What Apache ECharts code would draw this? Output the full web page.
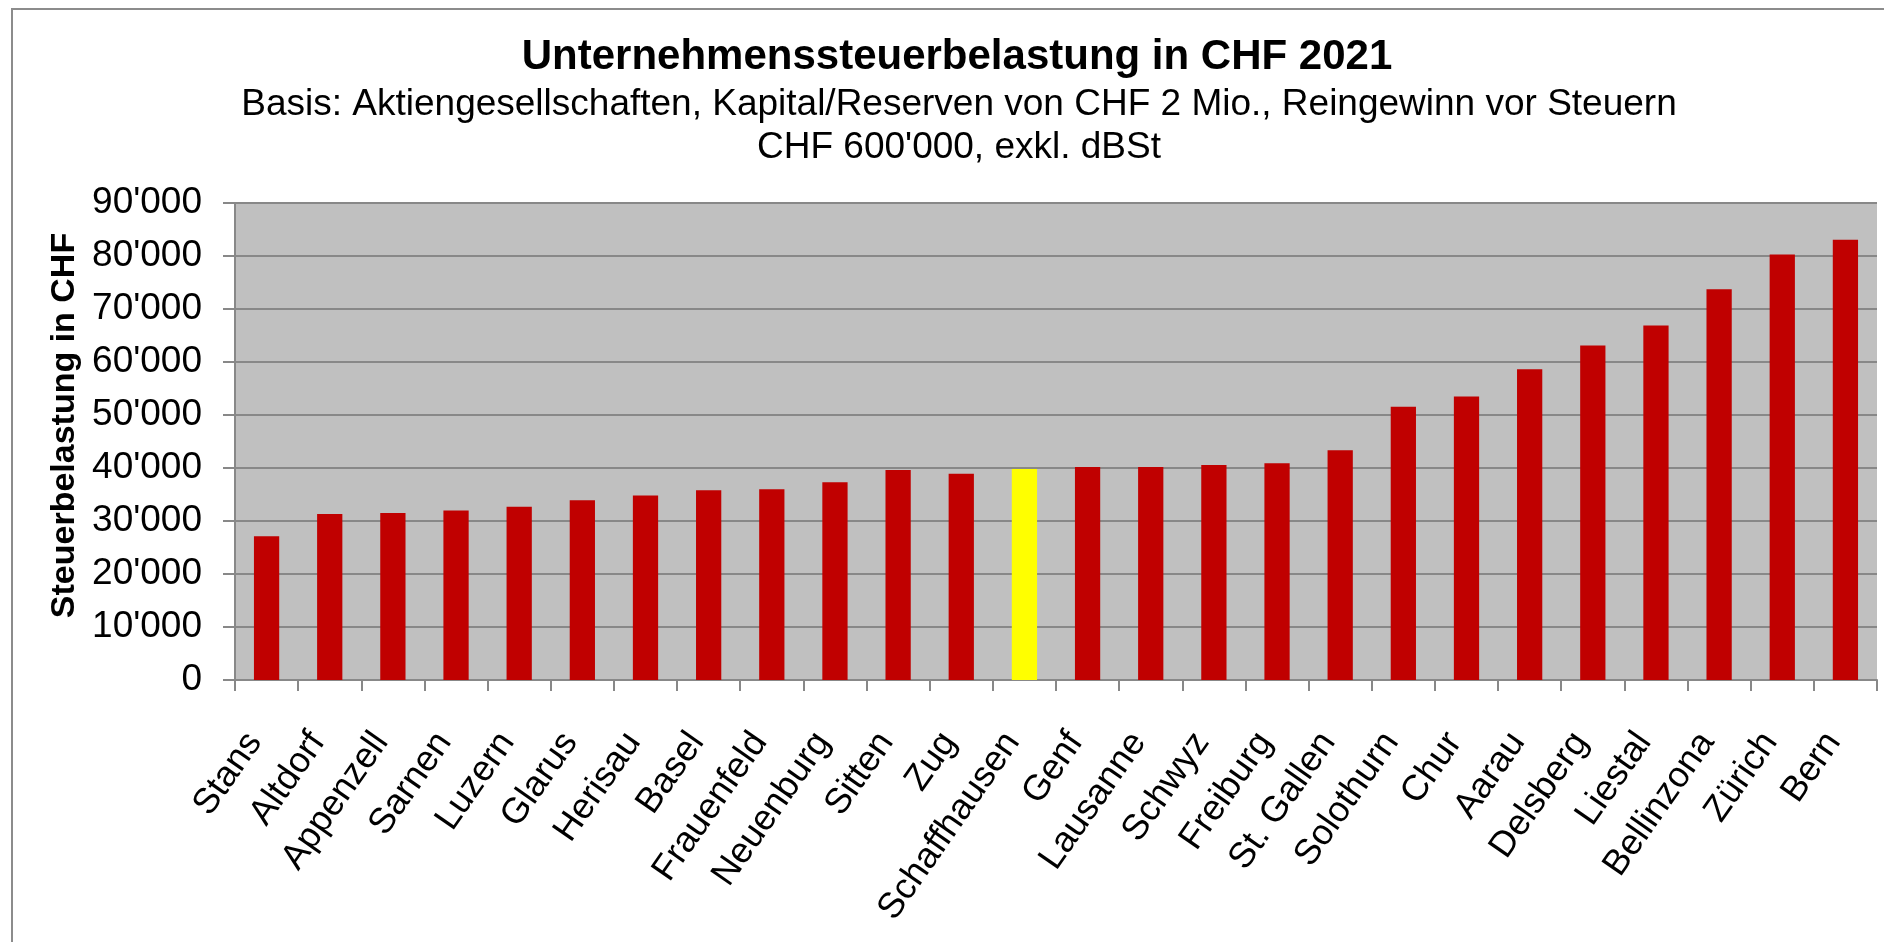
<!DOCTYPE html>
<html>
<head>
<meta charset="utf-8">
<script src="https://cdn.jsdelivr.net/npm/echarts@6/dist/echarts.min.js"></script>
<style>
html,body{margin:0;padding:0;background:#fff;}
#chart{width:1884px;height:942px;}
</style>
</head>
<body>
<div id="chart"></div>
<script>
const categories = ["Stans","Altdorf","Appenzell","Sarnen","Luzern","Glarus","Herisau","Basel","Frauenfeld","Neuenburg","Sitten","Zug","Schaffhausen","Genf","Lausanne","Schwyz","Freiburg","St. Gallen","Solothurn","Chur","Aarau","Delsberg","Liestal","Bellinzona","Zürich","Bern"];
const values = [27100,31300,31500,32000,32700,33900,34800,35800,36000,37300,39600,38900,39800,40200,40200,40550,40900,43350,51550,53500,58650,63100,66900,73750,80300,83050];
const highlighted = "Schaffhausen";
const titleText = "Unternehmenssteuerbelastung in CHF 2021";
const subtitleLines = ["Basis: Aktiengesellschaften, Kapital/Reserven von CHF 2 Mio., Reingewinn vor Steuern","CHF 600'000, exkl. dBSt"];
const yAxisName = "Steuerbelastung in CHF";
const yMin = 0, yMax = 90000, yStep = 10000;

const FONT = "'Liberation Sans', Arial, sans-serif";
const fmt = v => String(v).replace(/\B(?=(\d{3})+(?!\d))/g, "'");

const chart = echarts.init(document.getElementById('chart'));
chart.setOption({
  backgroundColor: '#ffffff',
  animation: false,
  graphic: [{
    type: 'rect', silent: true, z: -10,
    shape: {x: 12, y: 9, width: 3000, height: 3000},
    style: {fill: 'none', stroke: '#8c8c8c', lineWidth: 2}
  }],
  title: [{
    text: titleText,
    left: 957, top: 32, textAlign: 'center', padding: 0,
    textStyle: {fontFamily: FONT, fontSize: 42, fontWeight: 'bold', color: '#000', lineHeight: 50}
  }, {
    text: subtitleLines.join('\n'),
    left: 959, top: 83, textAlign: 'center', padding: 0,
    textStyle: {fontFamily: FONT, fontSize: 37, fontWeight: 'normal', color: '#000', lineHeight: 43}
  }],
  grid: {left: 235, right: 7, top: 203, bottom: 262, show: true, backgroundColor: '#c0c0c0', borderWidth: 0, containLabel: false},
  xAxis: {
    type: 'category',
    data: categories,
    boundaryGap: true,
    axisLine: {show: true, lineStyle: {color: '#888888', width: 2}},
    axisTick: {show: true, length: 11, alignWithLabel: false, lineStyle: {color: '#888888', width: 2}},
    axisLabel: {interval: 0, rotate: 55, margin: 39, padding: [0, 21, 0, 0], color: '#000', fontFamily: FONT, fontSize: 36},
    splitLine: {show: false}
  },
  yAxis: {
    type: 'value',
    min: yMin, max: yMax, interval: yStep,
    name: yAxisName,
    nameLocation: 'middle',
    nameGap: 153,
    nameTextStyle: {fontFamily: FONT, fontSize: 34, fontWeight: 'bold', color: '#000', padding: [0, 0, 0, 32]},
    axisLine: {show: true, lineStyle: {color: '#888888', width: 2}},
    axisTick: {show: true, length: 12, lineStyle: {color: '#888888', width: 2}},
    axisLabel: {margin: 33, color: '#000', fontFamily: FONT, fontSize: 37, formatter: fmt},
    splitLine: {show: true, lineStyle: {color: '#888888', width: 2}}
  },
  series: [{
    type: 'bar',
    barWidth: '40%',
    data: values.map((v, i) => categories[i] === highlighted
      ? {value: v, itemStyle: {color: '#ffff00'}}
      : {value: v}),
    itemStyle: {color: '#c00000'}
  }]
});
</script>
</body>
</html>
